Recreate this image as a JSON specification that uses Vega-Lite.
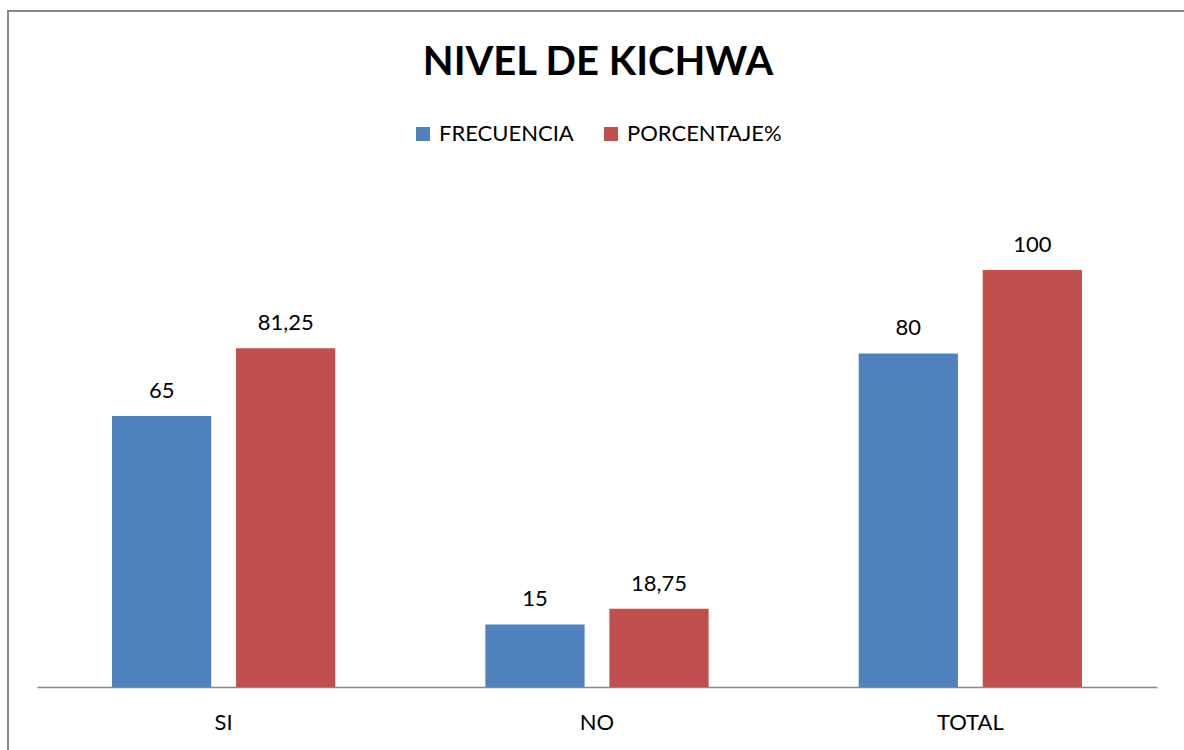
{
  "$schema": "https://vega.github.io/schema/vega-lite/v6.json",
  "autosize": {"type": "none"},
  "padding": {"left": 8, "top": 11, "right": 0, "bottom": 0},
  "width": 1180,
  "height": 745,
  "background": "white",
  "config": {
    "view": {"stroke": "#868686", "strokeWidth": 2},
    "locale": {"number": {"decimal": ",", "thousands": ".", "grouping": [3], "currency": ["", "€"]}},
    "font": "Lato"
  },
  "title": {
    "text": "NIVEL DE KICHWA",
    "font": "Lato",
    "fontSize": 40,
    "fontWeight": "bold",
    "color": "#000000",
    "anchor": "middle",
    "frame": "group",
    "baseline": "alphabetic",
    "offset": -104
  },
  "data": {
    "values": [
      {"categoria": "SI", "serie": "FRECUENCIA", "valor": 65},
      {"categoria": "SI", "serie": "PORCENTAJE%", "valor": 81.25},
      {"categoria": "NO", "serie": "FRECUENCIA", "valor": 15},
      {"categoria": "NO", "serie": "PORCENTAJE%", "valor": 18.75},
      {"categoria": "TOTAL", "serie": "FRECUENCIA", "valor": 80},
      {"categoria": "TOTAL", "serie": "PORCENTAJE%", "valor": 100}
    ]
  },
  "encoding": {
    "x": {
      "field": "categoria",
      "type": "nominal",
      "sort": ["SI", "NO", "TOTAL"],
      "scale": {"range": [29, 1149], "paddingInner": 0, "paddingOuter": 0},
      "axis": {
        "title": null,
        "orient": "bottom",
        "offset": -69,
        "labelAngle": 0,
        "ticks": false,
        "grid": false,
        "domainColor": "#898989",
        "domainWidth": 1.5,
        "labelFont": "Lato",
        "labelFontSize": 22,
        "labelColor": "#000000",
        "labelPadding": 25
      }
    },
    "xOffset": {
      "field": "serie",
      "type": "nominal",
      "sort": ["FRECUENCIA", "PORCENTAJE%"],
      "scale": {"paddingInner": 0.2, "paddingOuter": 0.605}
    },
    "y": {
      "field": "valor",
      "type": "quantitative",
      "scale": {"domain": [0, 100], "range": [676, 259], "nice": false, "zero": true},
      "axis": null
    }
  },
  "layer": [
    {
      "mark": {"type": "bar"},
      "encoding": {
        "color": {
          "field": "serie",
          "type": "nominal",
          "sort": ["FRECUENCIA", "PORCENTAJE%"],
          "scale": {"domain": ["FRECUENCIA", "PORCENTAJE%"], "range": ["#4F81BD", "#C0504D"]},
          "legend": {
            "title": null,
            "orient": "none",
            "direction": "horizontal",
            "legendX": 404,
            "legendY": 112,
            "padding": 0,
            "symbolType": "square",
            "symbolSize": 196,
            "symbolStrokeWidth": 0,
            "labelFont": "Lato",
            "labelFontSize": 22,
            "labelColor": "#000000",
            "labelOffset": 5,
            "columnPadding": 26
          }
        }
      }
    },
    {
      "mark": {"type": "text", "baseline": "alphabetic", "dy": -18, "font": "Lato", "fontSize": 22, "color": "#000000"},
      "encoding": {
        "text": {"field": "valor", "type": "quantitative", "format": "~r"}
      }
    }
  ]
}
